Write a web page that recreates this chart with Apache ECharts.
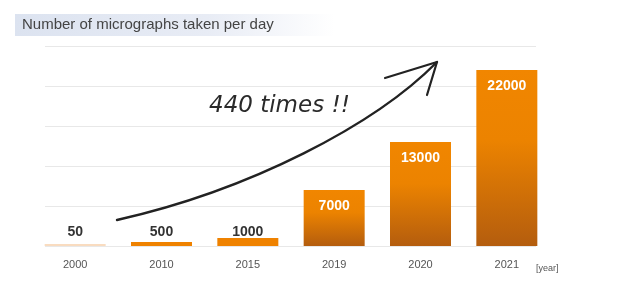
<!DOCTYPE html>
<html><head><meta charset="utf-8">
<script src="https://cdn.jsdelivr.net/npm/echarts@6/dist/echarts.min.js"></script>
<style>html,body{margin:0;padding:0;background:#fff}#c{width:617px;height:308px}</style>
</head><body><div id="c"></div>
<script>
const categories = ['2000', '2010', '2015', '2019', '2020', '2021'];
const values = [50, 500, 1000, 7000, 13000, 22000];
const yTicks = [0, 5000, 10000, 15000, 20000, 25000];

const chart = echarts.init(document.getElementById('c'));
const barGrad = new echarts.graphic.LinearGradient(0, 0, 0, 1, [
  {offset: 0, color: '#f18600'},
  {offset: 0.4, color: '#ec8300'},
  {offset: 1, color: '#b45d0e'}
]);
const data = values.map((v, i) => {
  const small = v < 2000;
  return {
    value: v,
    itemStyle: {color: i === 0 ? '#f9dcc0' : (small ? '#ef8200' : barGrad)},
    label: small
      ? {position: 'insideBottom', distance: 7, color: '#333'}
      : {position: 'insideTop', distance: 9, color: '#fff'}
  };
});
chart.setOption({
  animation: false,
  graphic: [
    {type: 'rect', shape: {x: 15, y: 14, width: 320, height: 22}, z: 0,
     style: {fill: new echarts.graphic.LinearGradient(0, 0, 1, 0, [
       {offset: 0, color: '#dce3f0'}, {offset: 0.6, color: '#e8ecf5'}, {offset: 1, color: '#ffffff'}])}},
    {type: 'text', left: 22, top: 17, z: 1,
     style: {text: 'Number of micrographs taken per day', fill: '#444', font: '15px "Liberation Sans", Arial, sans-serif'}},
    {type: 'text', left: 536, top: 264, z: 1,
     style: {text: '[year]', fill: '#555', font: '9px "Liberation Sans", Arial, sans-serif'}},
    {type: 'text', left: 209, top: 95, z: 10,
     style: {text: '440 times !!', fill: '#2a2a2a', font: 'italic 200 23px "DejaVu Sans", sans-serif'}},
    {type: 'bezierCurve', z: 10,
     shape: {x1: 117, y1: 220, x2: 437, y2: 62, cpx1: 250, cpy1: 190, cpx2: 375, cpy2: 125},
     style: {stroke: '#222', lineWidth: 2.4, fill: null, lineCap: 'round'}},
    {type: 'polyline', z: 10,
     shape: {points: [[385, 78], [437, 62], [427, 95]]},
     style: {stroke: '#222', lineWidth: 2.2, fill: null, lineCap: 'round', lineJoin: 'round'}}
  ],
  grid: [
    {left: 32, right: 67, top: 46, bottom: 62},
    {left: 45, right: 81, top: 46, bottom: 62}
  ],
  xAxis: [
    {type: 'category', data: categories, gridIndex: 0,
     axisLine: {show: false}, axisTick: {show: false},
     axisLabel: {color: '#555', fontSize: 11, margin: 13, fontFamily: 'Liberation Sans'}},
    {type: 'category', data: categories, gridIndex: 1, show: false}
  ],
  yAxis: [
    {type: 'value', gridIndex: 0, min: 0, max: 25000, interval: 5000, show: false},
    {type: 'value', gridIndex: 1, min: yTicks[0], max: yTicks[yTicks.length - 1], interval: 5000,
     axisLabel: {show: false}, axisLine: {show: false}, axisTick: {show: false},
     splitLine: {show: true, lineStyle: {color: '#e8e8e8', width: 1}}}
  ],
  series: [{
    type: 'bar', xAxisIndex: 0, yAxisIndex: 0, barWidth: 61, barMinHeight: 2,
    data: data,
    label: {show: true, fontSize: 14, fontWeight: 'bold', fontFamily: 'Liberation Sans'}
  }]
});
</script></body></html>
